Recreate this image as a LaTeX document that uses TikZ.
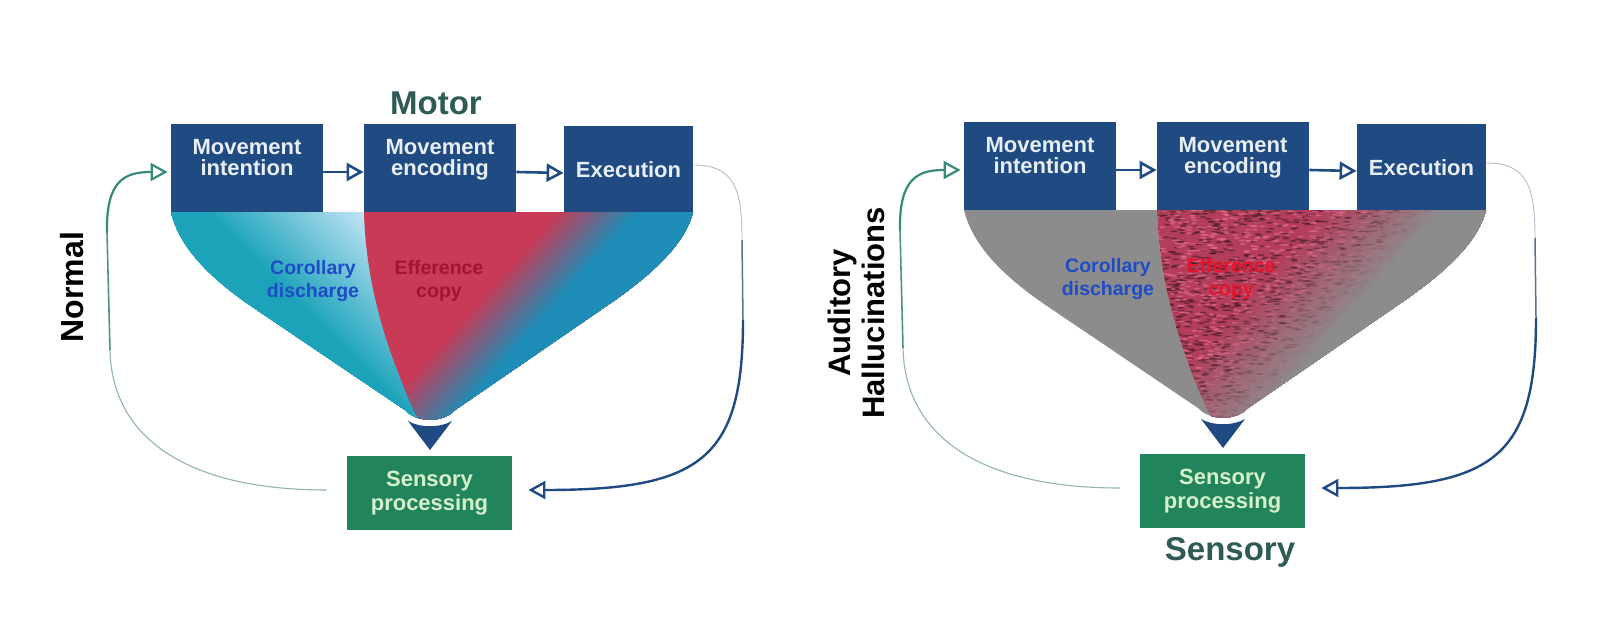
\documentclass[tikz,border=0pt]{standalone}
\usepackage{fontspec}
\setmainfont{Liberation Sans}
\usetikzlibrary{arrows.meta}

\definecolor{navy}{HTML}{1F4A82}
\definecolor{boxtxt}{HTML}{E8EEF3}
\definecolor{sgreen}{HTML}{22845A}
\definecolor{sgtxt}{HTML}{D6F0CC}
\definecolor{labteal}{HTML}{2F5B57}
\definecolor{fbpale}{HTML}{93B5AB}
\definecolor{fbmid}{HTML}{4E9484}
\definecolor{fbteal}{HTML}{358A7A}
\definecolor{rpale}{HTML}{B5BBC8}
\definecolor{rmid}{HTML}{5A6F9C}
\definecolor{cdteal}{HTML}{1CA3BA}
\definecolor{cdlight}{HTML}{BFE3F4}
\definecolor{efred}{HTML}{C83A56}
\definecolor{efblue}{HTML}{1E8DB7}
\definecolor{cdtext}{HTML}{1F4CC6}
\definecolor{eftext}{HTML}{A01434}
\definecolor{eftextb}{HTML}{E8142C}
\definecolor{hgray}{HTML}{8C8C8C}
\definecolor{texred}{HTML}{B23E5C}
\definecolor{texdark}{HTML}{3E1820}
\definecolor{texpink}{HTML}{E8708E}

\tikzset{
  mbox/.style={fill=navy, inner sep=0pt, minimum height=44pt},
  mtext/.style={text=boxtxt, font=\bfseries\fontsize{11}{10.5}\selectfont, align=center, inner sep=0pt},
  sbox/.style={fill=sgreen, text=sgtxt, font=\bfseries\fontsize{11}{12}\selectfont, align=center, inner sep=0pt, minimum width=82.5pt, minimum height=37pt},
  flow/.style={draw=navy, line width=1.3pt, -{Triangle[open,length=8.5pt,width=9pt]}},
  fbtip/.style={-{Triangle[open,length=8.5pt,width=9pt]}},
  biglabel/.style={font=\bfseries\fontsize{16.5}{18}\selectfont, text=labteal, inner sep=0pt},
  sidelabel/.style={font=\bfseries\fontsize{16}{17}\selectfont, text=black, align=center, rotate=90, inner sep=0pt},
  cdlabel/.style={font=\bfseries\fontsize{9.75}{11.5}\selectfont, text=cdtext, align=center, inner sep=0pt},
}

\def\funnelpath{(171,212) -- (693,212) .. controls (685,245) and (650,275) .. (615,300) -- (455,410) .. controls (443,423) and (417,423) .. (405,410) -- (257,310) .. controls (215,282) and (180,250) .. (171,212) -- cycle}
\def\cdregion{(150,190) -- (364,190) -- (364,212) .. controls (366,290) and (390,360) .. (418,418) -- (418,450) -- (150,450) -- cycle}
\def\efregion{(364,190) -- (720,190) -- (720,450) -- (418,450) -- (418,418) .. controls (390,360) and (366,290) .. (364,212) -- cycle}

\newcommand\panelparts[1]{%
  \node[mbox, minimum width=76pt] (#1b1) at (247,168) {};
  \node[mbox, minimum width=76pt] (#1b2) at (440,168) {};
  \node[mbox, minimum width=64.5pt, minimum height=43pt] (#1b3) at (628.5,169) {};
  \node[mtext, anchor=north] (#1t1) at (247,139) {Movement\\intention};
  \node[mtext, anchor=north] (#1t2) at (440,139) {Movement\\encoding};
  \node[mtext] (#1t3) at (628.5,170) {Execution};
  \node[sbox] (#1s) at (429.5,493) {Sensory\\processing};
  \fill[navy] (408,421) .. controls (420,428) and (440,428) .. (452,421) -- (430,450) -- cycle;
  \draw[flow] ([yshift=-2pt]#1b1.east) -- ([yshift=-2pt]#1b2.west);
  \draw[flow] ([yshift=-2pt]#1b2.east) -- ([yshift=-2pt]#1b3.west);
  \coordinate (#1fa) at (110,350);
  \coordinate (#1fb) at (107,232);
  \draw[fbpale, line width=0.55pt, shorten <=10pt] ([yshift=1.5pt]#1s.west) .. controls (190,490) and (112,440) .. (#1fa);
  \draw[fbmid, line width=0.8pt] (#1fa) -- (#1fb);
  \draw[fbteal, line width=1.1pt, fbtip, shorten >=1.5pt] (#1fb) .. controls (106,180) and (125,172) .. ([yshift=-2pt]#1b1.west);
  \coordinate (#1ra) at (742,240);
  \coordinate (#1rb) at (743,320);
  \draw[rpale, line width=0.45pt] ([yshift=2pt]#1b3.east) .. controls (735,165) and (742,190) .. (#1ra);
  \draw[rmid, line width=0.75pt] (#1ra) -- (#1rb);
  \draw[navy, line width=1.2pt, fbtip, shorten >=8pt] (#1rb) .. controls (743,460) and (700,490) .. ([yshift=1.5pt]#1s.east);
}

\begin{document}
\begin{tikzpicture}[x=0.5pt, y=-0.5pt]
\useasboundingbox (0,0) rectangle (1600,642);
\fill[white] (0,0) rectangle (1600,642);

% ---------- left panel funnel ----------
\begin{scope}
  \clip \funnelpath;
  \begin{scope}
    \clip \cdregion;
    \begin{scope}[shift={(364,212)}, rotate=225]
      \fill[cdlight] (-900,-900) rectangle (900,900);
      \foreach \s in {0,3,...,114} {
        \pgfmathtruncatemacro\p{min(100,\s/1.1)}
        \fill[cdteal!\p!cdlight] (\s,-900) rectangle (900,900);
      }
    \end{scope}
  \end{scope}
  \begin{scope}
    \clip \efregion;
    \begin{scope}[shift={(596,212)}, rotate=-41.6]
      \fill[efred] (-900,-900) rectangle (900,900);
      \foreach \s in {-30,-28,...,32} {
        \pgfmathtruncatemacro\p{max(0,min(100,(\s+30)*100/60))}
        \fill[efblue!\p!efred] (\s,-900) rectangle (900,900);
      }
    \end{scope}
  \end{scope}
\end{scope}
\node[cdlabel] (Lcd) at (313,281) {Corollary\\discharge};
\node[cdlabel, text=eftext] (Lef) at (439,281) {Efference\\copy};
\panelparts{L}

% ---------- right panel ----------
\begin{scope}[shift={(793,-2)}]
  \begin{scope}
    \clip \funnelpath;
    \fill[hgray] \cdregion;
    \begin{scope}
      \clip \efregion;
      \begin{scope}[shift={(596,212)}, rotate=-41.6]
        \fill[texred] (-900,-900) rectangle (900,900);
        \foreach \s in {-50,-47,...,40} {
          \pgfmathtruncatemacro\p{max(0,min(100,(\s+50)*100/90))}
          \fill[hgray!\p!texred] (\s,-900) rectangle (900,900);
        }
      \end{scope}
      \pgfmathsetseed{4242}
      \foreach \i in {1,...,1700} {
        \pgfmathsetmacro\xx{364+340*rnd}
        \pgfmathsetmacro\yy{212+210*rnd}
        \pgfmathsetmacro\opa{0.55*max(0,min(1,(35-((\xx-596)*0.747+(\yy-212)*0.664))/80))}
        \fill[texdark, opacity=\opa] (\xx,\yy) ellipse (1.8pt and 0.45pt);
      }
      \foreach \i in {1,...,1500} {
        \pgfmathsetmacro\xx{364+340*rnd}
        \pgfmathsetmacro\yy{212+210*rnd}
        \pgfmathsetmacro\opa{0.6*max(0,min(1,(35-((\xx-596)*0.747+(\yy-212)*0.664))/80))}
        \fill[texpink, opacity=\opa] (\xx,\yy) ellipse (1.5pt and 0.45pt);
      }
    \end{scope}
  \end{scope}
  \node[cdlabel] (Rcd) at (315,281) {Corollary\\discharge};
  \node[cdlabel, text=eftextb] (Ref) at (438,281) {Efference\\copy};
  \panelparts{R}
\end{scope}

% ---------- titles ----------
\node[biglabel] (motor) at (436,103) {Motor};
\node[biglabel] (sensory) at (1230,552) {Sensory};
\node[sidelabel] (normal) at (72,287) {Normal};
\node[sidelabel, font=\bfseries\fontsize{15.5}{17}\selectfont] (audhal) at (856,313) {Auditory\\Hallucinations};
\end{tikzpicture}
\end{document}
